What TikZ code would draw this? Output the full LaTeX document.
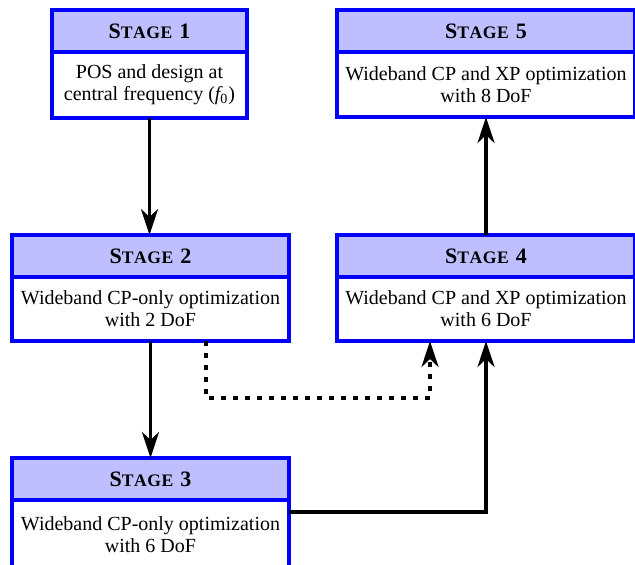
\documentclass[tikz,border=0pt]{standalone}
\usepackage{fontspec}
\setmainfont{Liberation Serif}
\usetikzlibrary{arrows.meta,calc}
\newcommand\stg[1]{{\bfseries\fontsize{11}{12}\selectfont S{\fontsize{8.8}{9}\selectfont T\kern0.3pt A\kern0.3pt G\kern0.3pt E}\hspace{3.5pt}#1}}
\definecolor{hdr}{RGB}{191,191,255}
\tikzset{
  hbox/.style={draw=blue, fill=hdr, line width=1.6pt, inner sep=0pt, outer sep=0pt,
    anchor=north west, minimum height=21pt},
  bbox/.style={draw=blue, fill=white, line width=1.6pt, inner sep=0pt, outer sep=0pt,
    anchor=north west, align=center, font=\fontsize{10}{11}\selectfont},
  flow/.style={line width=1.7pt, -{Stealth[length=13pt,width=8.5pt,inset=4pt]}},
  dflow/.style={flow, dash pattern=on 2.5pt off 3.5pt}
}
\begin{document}
\begin{tikzpicture}[x=0.5pt,y=-0.5pt]
\useasboundingbox (0,0) rectangle (635,564);
% Stage 1
\node[hbox, minimum width=97.5pt] (s1h) at (52,10) {\stg{1}};
\node[bbox, minimum width=97.5pt, minimum height=33pt] (s1b) at (s1h.south west)
  {POS and design at\\central frequency ({\itshape f}\textsubscript{0})};
% Stage 5
\node[hbox, minimum width=149pt] (s5h) at (337,10) {\stg{5}};
\node[bbox, minimum width=149pt, minimum height=32.5pt] (s5b) at (s5h.south west)
  {Wideband CP and XP optimization\\with 8 DoF};
% Stage 2
\node[hbox, minimum width=138.5pt] (s2h) at (12,235) {\stg{2}};
\node[bbox, minimum width=138.5pt, minimum height=32pt] (s2b) at (s2h.south west)
  {Wideband CP-only optimization\\with 2 DoF};
% Stage 4
\node[hbox, minimum width=149pt] (s4h) at (337,235) {\stg{4}};
\node[bbox, minimum width=149pt, minimum height=32pt] (s4b) at (s4h.south west)
  {Wideband CP and XP optimization\\with 6 DoF};
% Stage 3
\node[hbox, minimum width=138.5pt] (s3h) at (12,458) {\stg{3}};
\node[bbox, minimum width=138.5pt, minimum height=34.5pt] (s3b) at (s3h.south west)
  {Wideband CP-only optimization\\with 6 DoF};
% connectors
\draw[flow] (s1b.south) -- (s1b.south |- s2h.north);
\draw[flow] (s2b.south) -- (s2b.south |- s3h.north);
\coordinate (c3) at ($(s3b.north east)+(0,12)$);
\draw[flow] (c3) -| (s4b.south);
\draw[flow] (s4h.north) -- (s5b.south);
\coordinate (d0) at ($(s2b.south west)+(194,0)$);
\coordinate (d1) at ($(s4b.south west)+(93,0)$);
\draw[dflow] (d0) -- ++(0,57) -| (d1);
\end{tikzpicture}
\end{document}
